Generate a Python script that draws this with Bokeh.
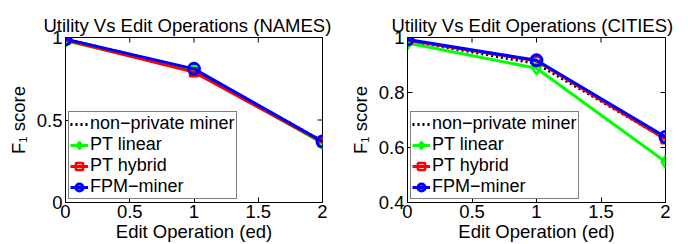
import math
from bokeh.plotting import figure
from bokeh.layouts import row
from bokeh.models import Range1d, FixedTicker, Legend, LegendItem
from bokeh.embed import file_html
from bokeh.resources import INLINE

ed = [0, 1, 2]
x_ticks = [0, 0.5, 1, 1.5, 2]
x_tick_labels = ["0", "0.5", "1", "1.5", "2"]

names_nonprivate = [0.99, 0.805, 0.37]
names_pt_linear = [0.98, 0.80, 0.36]
names_pt_hybrid = [0.985, 0.79, 0.365]
names_fpm = [0.99, 0.81, 0.37]
names_y_ticks = [0, 0.5, 1]
names_y_tick_labels = ["0", "0.5", "1"]

cities_nonprivate = [0.99, 0.905, 0.632]
cities_pt_linear = [0.98, 0.888, 0.548]
cities_pt_hybrid = [0.99, 0.915, 0.63]
cities_fpm = [0.993, 0.917, 0.638]
cities_y_ticks = [0.4, 0.6, 0.8, 1]
cities_y_tick_labels = ["0.4", "0.6", "0.8", "1"]

labels = ["non\u2212private miner", "PT linear", "PT hybrid", "FPM\u2212miner"]

FONT = "Liberation Sans"
FS = "18.5px"


def style_axis(ax, ticks, tick_labels):
    ax.ticker = FixedTicker(ticks=ticks)
    ax.major_label_overrides = {t: l for t, l in zip(ticks, tick_labels)}
    ax.major_tick_in = 5
    ax.major_tick_out = 0
    ax.minor_tick_line_color = None
    ax.axis_line_color = "black"
    ax.major_tick_line_color = "black"
    ax.major_label_text_font = FONT
    ax.major_label_text_font_size = FS
    ax.major_label_text_color = "black"
    ax.axis_label_text_font = FONT
    ax.axis_label_text_font_size = FS
    ax.axis_label_text_font_style = "normal"
    ax.axis_label_text_color = "black"


def make(title, yr, yt, ytl, nonpriv, lin, hyb, fpm, bl, br, toff):
    p = figure(width=344, height=244, x_range=Range1d(0, 2), y_range=Range1d(*yr),
               output_backend="svg", toolbar_location=None, title=title,
               min_border_left=bl, min_border_right=br, min_border_top=37, min_border_bottom=0)
    p.title.text_font = FONT
    p.title.text_font_size = FS
    p.title.text_font_style = "normal"
    p.title.text_color = "black"
    p.title.align = "left"
    p.title.offset = toff
    p.title.standoff = 3
    p.grid.visible = False
    p.outline_line_color = "black"
    p.background_fill_color = "white"
    p.border_fill_color = "white"
    style_axis(p.xaxis[0], x_ticks, x_tick_labels)
    style_axis(p.yaxis[0], yt, ytl)
    p.xaxis[0].axis_label = "Edit Operation (ed)"
    p.xaxis[0].axis_label_standoff = 0
    p.xaxis[0].major_label_standoff = 2
    p.yaxis[0].axis_label = "F\u2081 score"
    p.yaxis[0].axis_label_standoff = 5
    p.yaxis[0].major_label_standoff = 3

    # inward tick marks on the top and right edges of the box
    p.scatter(x_ticks, [yr[1]] * len(x_ticks), marker="dash", size=10, angle=math.pi / 2,
              line_color="black", line_width=1)
    p.scatter([2] * len(yt), yt, marker="dash", size=10, line_color="black", line_width=1)

    r0 = p.line(ed, nonpriv, line_color="black", line_width=3, line_dash="2 3")
    r1 = p.line(ed, lin, line_color="#00ff00", line_width=3)
    m1 = p.scatter(ed, lin, marker="diamond", size=12, line_color="#00ff00", fill_color=None, line_width=2.5)
    r2 = p.line(ed, hyb, line_color="#ff0000", line_width=3)
    m2 = p.scatter(ed, hyb, marker="square", size=8, line_color="#ff0000", fill_color=None, line_width=2.5)
    r3 = p.line(ed, fpm, line_color="#0000ff", line_width=3)
    m3 = p.scatter(ed, fpm, marker="circle", size=11, line_color="#0000ff", fill_color=None, line_width=3)

    items = [LegendItem(label=labels[0], renderers=[r0]),
             LegendItem(label=labels[1], renderers=[r1, m1]),
             LegendItem(label=labels[2], renderers=[r2, m2]),
             LegendItem(label=labels[3], renderers=[r3, m3])]
    leg = Legend(items=items, location="bottom_left", margin=3, padding=1, spacing=0,
                 glyph_width=18, glyph_height=20, label_height=20, label_standoff=2,
                 label_text_font=FONT, label_text_font_size="18px", label_text_color="black",
                 label_text_line_height=1.0,
                 border_line_color="black", border_line_width=1, background_fill_alpha=1)
    p.add_layout(leg)
    return p


p1 = make("Utility Vs Edit Operations (NAMES)", (0, 1), names_y_ticks, names_y_tick_labels,
          names_nonprivate, names_pt_linear, names_pt_hybrid, names_fpm, 65, 22, -22)
p2 = make("Utility Vs Edit Operations (CITIES)", (0.4, 1), cities_y_ticks, cities_y_tick_labels,
          cities_nonprivate, cities_pt_linear, cities_pt_hybrid, cities_fpm, 63, 23, -16)

layout = row(p1, p2)
open("out.html", "w").write(file_html(layout, INLINE))
